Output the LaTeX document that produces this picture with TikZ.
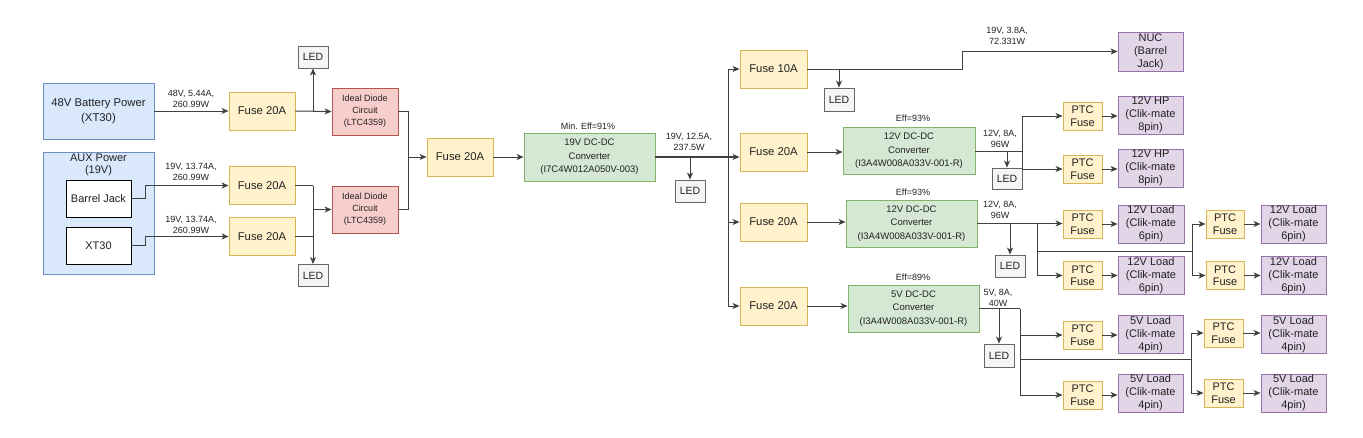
\documentclass[tikz,border=0pt]{standalone}
\usepackage{fontspec}
\setmainfont{Liberation Sans}
\usetikzlibrary{arrows.meta,calc}
\definecolor{bluef}{HTML}{DAE8FC}\definecolor{blued}{HTML}{6C8EBF}
\definecolor{yelf}{HTML}{FFF2CC}\definecolor{yeld}{HTML}{D6B656}
\definecolor{redf}{HTML}{F8CECC}\definecolor{redd}{HTML}{B85450}
\definecolor{grnf}{HTML}{D5E8D4}\definecolor{grnd}{HTML}{82B366}
\definecolor{purf}{HTML}{E1D5E7}\definecolor{purd}{HTML}{9673A6}
\definecolor{ledf}{HTML}{F5F5F5}\definecolor{ledd}{HTML}{666666}
\definecolor{ink}{HTML}{222222}
\definecolor{wire}{HTML}{404040}
\begin{document}
\begin{tikzpicture}[x=1pt,y=-1pt,
 base/.style={draw, line width=0.9pt, align=center, inner sep=0pt, text=ink},
 srcbox/.style={base, fill=bluef, draw=blued, minimum width=111pt},
 whitebox/.style={base, fill=white, draw=black, minimum width=65pt, minimum height=37pt, font=\fontsize{11}{13}\selectfont},
 fusebox/.style={base, fill=yelf, draw=yeld, minimum width=66pt, minimum height=38pt, font=\fontsize{11.3}{13}\selectfont},
 ptcbox/.style={base, fill=yelf, draw=yeld, minimum width=39pt, minimum height=28pt, font=\fontsize{11}{12.5}\selectfont},
 diodebox/.style={base, fill=redf, draw=redd, minimum width=66pt, minimum height=47pt, font=\fontsize{9}{12}\selectfont},
 convbox/.style={base, fill=grnf, draw=grnd, minimum width=131pt, minimum height=47pt, font=\fontsize{9.5}{13.5}\selectfont},
 loadbox/.style={base, fill=purf, draw=purd, minimum width=65pt, minimum height=38pt, font=\fontsize{11}{13}\selectfont},
 ledbox/.style={base, fill=ledf, draw=ledd, minimum width=30pt, minimum height=22pt, font=\fontsize{10.5}{12}\selectfont},
 lbl/.style={align=center, inner sep=0pt, text=ink, font=\fontsize{9}{11}\selectfont},
 wirel/.style={draw=wire, line width=1pt},
 arr/.style={wirel, -{Stealth[length=7pt,width=6pt,inset=2pt]}},
]
\useasboundingbox[fill=white] (0,0) rectangle (1363,437);

% sources
\node[srcbox, minimum height=56pt, font=\fontsize{11.3}{15}\selectfont] (bat) at (98.5,111) {48V Battery Power\\(XT30)};
\node[srcbox, minimum height=122pt, label={[lbl,font=\fontsize{11}{12}\selectfont,anchor=north,yshift=-2pt]north:AUX Power\\(19V)}] (aux) at (98.5,213) {};
\node[whitebox] (bj) at (98.5,198.5) {Barrel Jack};
\node[whitebox] (xt) at (98.5,245.5) {XT30};

% input fuses, diodes
\node[fusebox] (fA) at (262,111) {Fuse 20A};
\node[fusebox] (fB) at (262,185.5) {Fuse 20A};
\node[fusebox] (fC) at (262,236.5) {Fuse 20A};
\node[ledbox] (ledA) at (313,57) {LED};
\node[ledbox] (ledB) at (313,275.5) {LED};
\node[diodebox] (idA) at (365,111.5) {Ideal Diode\\Circuit\\(LTC4359)};
\node[diodebox] (idB) at (365,209.5) {Ideal Diode\\Circuit\\(LTC4359)};
\node[fusebox] (fD) at (460,157) {Fuse 20A};
\node[convbox, minimum height=48pt] (cv1) at (589.5,157) {19V DC-DC\\Converter\\(I7C4W012A050V-003)};
\node[ledbox] (led1) at (690,191) {LED};

% row 1
\node[fusebox, minimum width=67pt] (f10) at (773.5,69) {Fuse 10A};
\node[ledbox, minimum height=23pt] (ledN) at (839,99.5) {LED};
\node[loadbox, minimum height=39pt] (nuc) at (1150.5,51.5) {NUC\\(Barrel\\Jack)};

% row 2
\node[fusebox, minimum width=67pt] (fR2) at (773.5,152) {Fuse 20A};
\node[convbox, minimum width=132pt] (cv2) at (909,151) {12V DC-DC\\Converter\\(I3A4W008A033V-001-R)};
\node[ledbox, minimum height=21pt] (led2) at (1007,178.5) {LED};
\node[ptcbox] (p2a) at (1082.5,116) {PTC\\Fuse};
\node[loadbox] (h2a) at (1150.5,115) {12V HP\\(Clik-mate\\8pin)};
\node[ptcbox] (p2b) at (1082.5,169) {PTC\\Fuse};
\node[loadbox] (h2b) at (1150.5,168) {12V HP\\(Clik-mate\\8pin)};

% row 3
\node[fusebox, minimum width=67pt] (fR3) at (773.5,222) {Fuse 20A};
\node[convbox] (cv3) at (911.5,223.5) {12V DC-DC\\Converter\\(I3A4W008A033V-001-R)};
\node[ledbox] (led3) at (1010,266) {LED};
\node[ptcbox] (p3a) at (1082.5,224) {PTC\\Fuse};
\node[loadbox, minimum width=66pt] (l3a) at (1151,224) {12V Load\\(Clik-mate\\6pin)};
\node[ptcbox, minimum width=38pt] (p3c) at (1225,224) {PTC\\Fuse};
\node[loadbox] (l3c) at (1293.5,224) {12V Load\\(Clik-mate\\6pin)};
\node[ptcbox] (p3b) at (1082.5,275.5) {PTC\\Fuse};
\node[loadbox, minimum width=66pt] (l3b) at (1151,275.5) {12V Load\\(Clik-mate\\6pin)};
\node[ptcbox, minimum width=38pt] (p3d) at (1225,275.5) {PTC\\Fuse};
\node[loadbox] (l3d) at (1293.5,275.5) {12V Load\\(Clik-mate\\6pin)};

% row 4
\node[fusebox, minimum width=67pt] (fR4) at (773.5,306) {Fuse 20A};
\node[convbox] (cv4) at (913.5,308.5) {5V DC-DC\\Converter\\(I3A4W008A033V-001-R)};
\node[ledbox, minimum height=23pt] (led4) at (999,355.5) {LED};
\node[ptcbox] (p4a) at (1082.5,335) {PTC\\Fuse};
\node[loadbox] (l4a) at (1150.5,334.5) {5V Load\\(Clik-mate\\4pin)};
\node[ptcbox] (p4c) at (1223.5,333) {PTC\\Fuse};
\node[loadbox] (l4c) at (1293.5,334.5) {5V Load\\(Clik-mate\\4pin)};
\node[ptcbox] (p4b) at (1082.5,395) {PTC\\Fuse};
\node[loadbox] (l4b) at (1150.5,393) {5V Load\\(Clik-mate\\4pin)};
\node[ptcbox] (p4d) at (1223.5,393) {PTC\\Fuse};
\node[loadbox] (l4d) at (1293.5,393) {5V Load\\(Clik-mate\\4pin)};

% labels
\node[lbl] (t1) at (191,98.5) {48V, 5.44A,\\260.99W};
\node[lbl] (t2) at (191,172) {19V, 13.74A,\\260.99W};
\node[lbl] (t3) at (191,224.5) {19V, 13.74A,\\260.99W};
\node[lbl] (t4) at (588,126) {Min. Eff=91\%};
\node[lbl] (t5) at (689,142) {19V, 12.5A,\\237.5W};
\node[lbl] (t6) at (1007,36) {19V, 3.8A,\\72.331W};
\node[lbl] (t7) at (913,118) {Eff=93\%};
\node[lbl] (t8) at (1000,138.5) {12V, 8A,\\96W};
\node[lbl] (t9) at (913,192) {Eff=93\%};
\node[lbl] (t10) at (1000,210) {12V, 8A,\\96W};
\node[lbl] (t11) at (913,277) {Eff=89\%};
\node[lbl] (t12) at (998,297.5) {5V, 8A,\\40W};

% coordinates
\coordinate (jB) at (ledB |- idB.west);
\coordinate (jD) at (408,157);
\coordinate (bus) at (728,157);
\coordinate (j2) at (1022,151);
\coordinate (j3) at (1037,224);
\coordinate (k3) at (1192,251);
\coordinate (j4) at (1020,308.5);
\coordinate (k4) at (1191,359);

% left side
\draw[arr] (bat.east) -- (fA.west);
\draw[arr] (bj.east) -- ++(14,0) |- (fB.west);
\draw[arr] (xt.east) -- ++(14,0) |- (fC.west);
\draw[arr] (fA.east) -- (idA.west);
\draw[arr] (fA.east -| ledA) -- (ledA.south);
\draw[wirel] (fB.east) -- (fB.east -| ledB);
\draw[wirel] (fC.east) -- (fC.east -| ledB);
\draw[arr] (fB.east -| ledB) -- (ledB.north);
\draw[arr] (jB) -- (idB.west);
\draw[wirel] (idA.east) -| (jD);
\draw[wirel] (idB.east) -| (jD);
\draw[arr] (jD) -- (fD.west);
\draw[arr] (fD.east) -- (cv1.west);

% 19V bus
\draw[arr, line width=2pt] (cv1.east) -- (cv1.east -| fR2.west);
\draw[arr] (cv1.east -| led1) -- (led1.north);
\draw[arr] (bus) |- (f10.west);
\draw[arr] (bus) |- (fR3.west);
\draw[arr] (bus) |- (fR4.west);

% row 1
\draw[arr] (f10.east) -- ++(155,0) |- (nuc.west);
\draw[arr] (f10.east -| ledN) -- (ledN.north);

% row 2
\draw[arr] (fR2.east) -- (fR2.east -| cv2.west);
\draw[wirel] (cv2.east) -- (j2);
\draw[arr] (cv2.east -| led2) -- (led2.north);
\draw[arr] (j2) |- (p2a.west);
\draw[arr] (j2) |- (p2b.west);
\draw[arr] (p2a.east) -- (p2a.east -| h2a.west);
\draw[arr] (p2b.east) -- (p2b.east -| h2b.west);

% row 3
\draw[arr] (fR3.east) -- (fR3.east -| cv3.west);
\draw[arr] (cv3.east) -- (cv3.east -| p3a.west);
\draw[arr] (cv3.east -| led3) -- (led3.north);
\draw[arr] (j3) |- (p3b.west);
\draw[wirel] (j3 |- k3) -- (k3);
\draw[arr] (k3) |- (p3c.west);
\draw[arr] (k3) |- (p3d.west);
\draw[arr] (p3a) -- (l3a);
\draw[arr] (p3b) -- (l3b);
\draw[arr] (p3c) -- (l3c);
\draw[arr] (p3d) -- (l3d);

% row 4
\draw[arr] (fR4.east) -- (fR4.east -| cv4.west);
\draw[wirel] (cv4.east) -- (j4);
\draw[arr] (cv4.east -| led4) -- (led4.north);
\draw[arr] (j4) |- (p4a.west);
\draw[arr] (j4) |- (p4b.west);
\draw[wirel] (j4 |- k4) -- (k4);
\draw[arr] (k4) |- (p4c.west);
\draw[arr] (k4) |- (p4d.west);
\draw[arr] (p4a.east) -- (p4a.east -| l4a.west);
\draw[arr] (p4b.east) -- (p4b.east -| l4b.west);
\draw[arr] (p4c.east) -- (p4c.east -| l4c.west);
\draw[arr] (p4d.east) -- (p4d.east -| l4d.west);
\end{tikzpicture}
\end{document}
